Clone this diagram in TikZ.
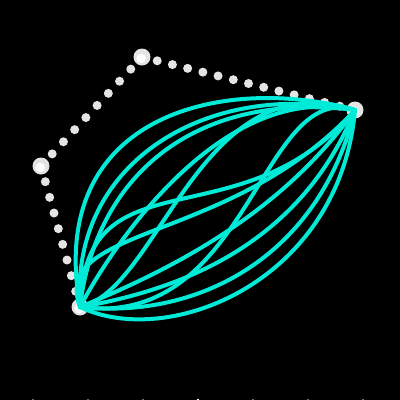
\documentclass[tikz,border=0pt]{standalone}
\usetikzlibrary{calc}
\definecolor{cyanline}{RGB}{0,235,215}
\definecolor{dotgrey}{RGB}{228,228,228}
\definecolor{tickgrey}{RGB}{110,110,110}
\tikzset{
  smalldot/.style={fill=dotgrey},
  fibre/.style={draw=cyanline,line width=4pt,line cap=round},
}
\begin{document}
\begin{tikzpicture}[x=1pt,y=-1pt]
\fill[black] (0,0) rectangle (400,400);
\useasboundingbox (0,0) rectangle (400,400);
\coordinate (A) at (142,57);
\coordinate (B) at (355,110);
\coordinate (C) at (80,307);
\coordinate (D) at (41,166);
% dotted edges
\foreach \i in {1,...,8} \fill[smalldot] ($(D)!\i/9!(A)$) circle (4.5);
\foreach \i in {1,...,13} \fill[smalldot] ($(A)!\i/14!(B)$) circle (4.5);
\foreach \i in {1,...,8} \fill[smalldot] ($(C)!\i/9!(D)$) circle (4.5);
% vertices
\foreach \v in {A,B,C,D} {
  \fill[dotgrey] (\v) circle (8.5);
  \fill[white] ($(\v)+(-0.8,1.5)$) circle (4.8);
}
% fibres
\draw[fibre] (C) .. controls (45,110) and (230,75) .. (B);
\draw[fibre] (C) .. controls (70,160) and (210,80) .. (B);
\draw[fibre] (C) .. controls (95,180) and (190,90) .. (B);
\draw[fibre] (C) .. controls (50,225) and (230,245) .. (B);
\draw[fibre] (C) .. controls (85,150) and (240,245) .. (B);
\draw[fibre] (C) .. controls (110,250) and (220,80) .. (B);
\draw[fibre] (C) .. controls (160,290) and (200,60) .. (B);
\draw[fibre] (C) .. controls (250,330) and (260,80) .. (B);
\draw[fibre] (C) .. controls (170,270) and (280,215) .. (B);
\draw[fibre] (C) .. controls (180,290) and (300,245) .. (B);
\draw[fibre] (C) .. controls (200,320) and (320,255) .. (B);
\draw[fibre] (C) .. controls (170,350) and (340,280) .. (B);
% marks at the bottom edge
\foreach \x in {33,88,143,253,308,363} \fill[tickgrey] (\x-1,398.6) rectangle (\x+1,400);
\fill[white] (197,398.6) rectangle (199,400);
\end{tikzpicture}
\end{document}
